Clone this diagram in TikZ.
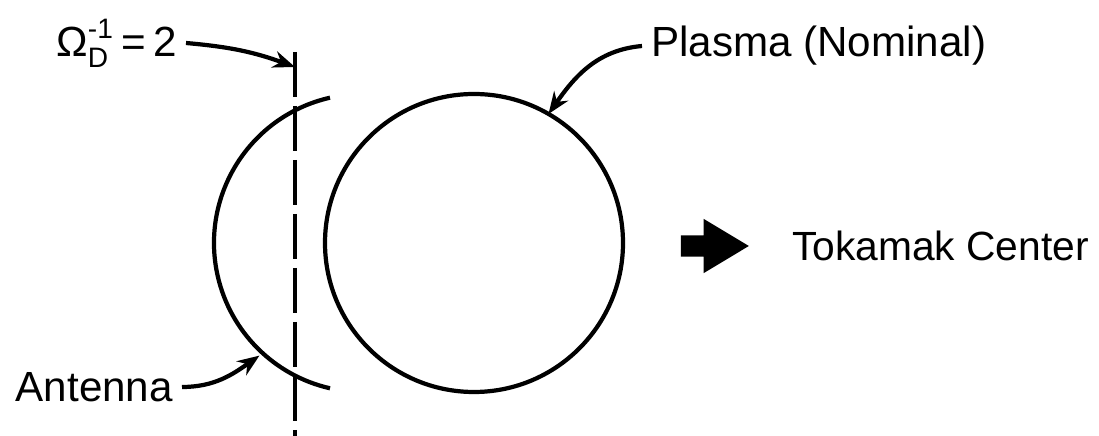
\documentclass[tikz,border=0pt]{standalone}
\usepackage{amsmath}
\usepackage{fontspec}
\setmainfont{Liberation Sans}
\usetikzlibrary{arrows.meta,positioning,shapes.arrows}

\begin{document}
\begin{tikzpicture}[line width=1.2pt,
  lbl/.style={font=\fontsize{12}{14}\selectfont,inner sep=2pt},
  ptr/.style={-{Stealth[length=0.22cm,width=0.17cm]}}]
\useasboundingbox (0,0) rectangle (10.99,4.36);
% plasma and antenna
\node[circle,draw,minimum size=2.98cm,inner sep=0pt,outer sep=0pt] (plasma) at (4.74,1.93) {};
\coordinate (antc) at (3.63,1.93);
\draw ([shift={(102.8:1.49)}]antc) arc[start angle=102.8,end angle=257.2,radius=1.49];
% resonance layer
\coordinate (dtop) at (2.95,3.84);
\coordinate (dbot) at (2.95,0);
\draw[dash pattern=on 0.45cm off 0.09cm] (dtop) -- (dbot);
% labels
\node[lbl,anchor=east] (omtxt) at (1.86,3.93) {$\text{Ω}^{\text{-1}}_{\text{D}}$\,=\,2};
\coordinate (dtip) at (2.95,3.69);
\draw[ptr] (omtxt.east) to[out=-5,in=160] (dtip);
\node[lbl,anchor=west] (pltxt) at (6.42,3.90) {Plasma (Nominal)};
\draw[ptr] (pltxt.west) to[out=185,in=55] (plasma.60);
\node[lbl,anchor=east] (antxt) at (1.82,0.49) {Antenna};
\coordinate (anttip) at ([shift={(227.4:1.53)}]antc);
\draw[ptr] (antxt.east) to[out=0,in=215] (anttip);
% direction of the machine axis
\node[single arrow,fill,draw=none,inner sep=0.085cm,minimum height=0.68cm,
  single arrow head extend=0.165cm,single arrow tip angle=62] (tokarr) at (7.06,1.90) {};
\node[lbl,font=\fontsize{11.6}{14}\selectfont,right=0.3cm of tokarr] (tktxt) {Tokamak Center};
\end{tikzpicture}
\end{document}
